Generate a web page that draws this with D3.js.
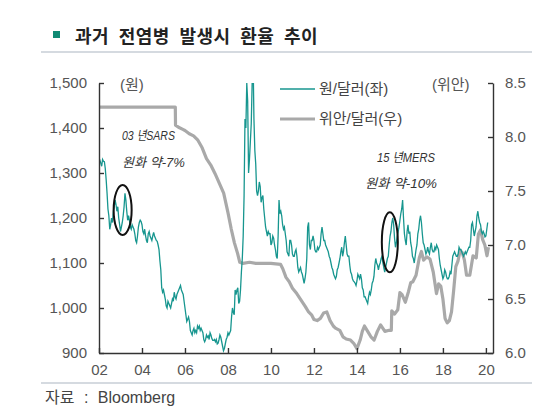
<!DOCTYPE html>
<html>
<head>
<meta charset="utf-8">
<script src="https://cdn.jsdelivr.net/npm/d3@7"></script>
<style>
body { margin: 0; background: #fff; }
svg { display: block; }
</style>
</head>
<body>
<svg id="chart" width="540" height="420"></svg>
<script>
const title = "과거 전염병 발생시 환율 추이"
const source = "자료 : Bloomberg"
const seriesNames = ["원/달러(좌)", "위안/달러(우)"]
const unitLabels = ["(원)", "(위안)"]
const yearTicks = [2002, 2004, 2006, 2008, 2010, 2012, 2014, 2016, 2018, 2020]
const krwTicks = [900, 1000, 1100, 1200, 1300, 1400, 1500]
const cnyTicks = [6.0, 6.5, 7.0, 7.5, 8.0, 8.5]
const noteSars = ["03 년SARS", "원화 약-7%"]
const noteMers = ["15 년MERS", "원화 약-10%"]

// KRW per USD, two readings a month starting Jan 2002
const krwStart = 2002
const krwRates = [
  1318,1328,1322,1315,1330,1326,1325,1310,1285,1255,1220,1205,1175,1185,1200,1190,1215,1225,1240,1230,1215,1225,1200,1186,
  1170,1180,1190,1205,1225,1255,1240,1215,1195,1205,1195,1180,1175,1185,1180,1175,1165,1150,1145,1160,1180,1190,1195,1192,
  1185,1170,1165,1175,1160,1150,1145,1165,1170,1160,1155,1150,1160,1168,1160,1155,1150,1148,1140,1130,1105,1085,1045,1035,
  1040,1030,1020,1005,1000,1015,1010,1005,1000,1010,1020,1015,1035,1025,1020,1030,1035,1040,1045,1050,1040,1035,1030,1015,
  1000,985,970,975,980,970,950,945,940,950,955,945,950,945,960,955,960,950,955,950,945,930,925,930,
  940,935,938,930,945,940,932,928,928,930,925,930,920,922,930,940,935,925,915,905,910,920,930,935,
  945,940,945,950,980,1000,990,985,1040,1030,1040,1045,1010,1015,1040,1080,1110,1160,1250,1420,1400,1500,1460,1300,
  1330,1370,1410,1500,1560,1420,1350,1320,1260,1250,1260,1280,1270,1235,1245,1250,1220,1200,1180,1170,1160,1170,1165,1165,
  1140,1145,1160,1155,1140,1130,1115,1110,1160,1240,1210,1215,1205,1185,1175,1180,1165,1150,1125,1120,1115,1150,1150,1140,
  1120,1115,1115,1125,1130,1115,1090,1080,1085,1090,1080,1075,1065,1055,1065,1080,1110,1180,1190,1140,1130,1150,1150,1160,
  1150,1130,1125,1125,1135,1130,1135,1140,1165,1180,1165,1150,1150,1140,1135,1130,1125,1115,1110,1100,1090,1085,1075,1070,
  1065,1070,1085,1090,1100,1110,1125,1135,1115,1125,1145,1160,1140,1120,1115,1115,1095,1080,1075,1065,1060,1058,1055,1050,
  1060,1075,1070,1065,1075,1065,1045,1040,1025,1025,1020,1015,1010,1025,1035,1030,1040,1055,1060,1070,1095,1110,1100,1095,
  1085,1095,1100,1110,1115,1100,1090,1080,1090,1100,1110,1115,1140,1160,1170,1190,1200,1185,1155,1135,1145,1160,1170,1180,
  1195,1210,1220,1240,1200,1165,1150,1140,1170,1185,1165,1170,1145,1135,1115,1110,1100,1115,1130,1140,1165,1175,1195,1205,
  1190,1165,1145,1140,1130,1120,1125,1135,1125,1120,1135,1145,1130,1125,1125,1135,1130,1140,1135,1130,1110,1095,1085,1075,
  1065,1070,1085,1080,1070,1065,1065,1070,1080,1075,1095,1115,1120,1125,1120,1115,1115,1120,1135,1130,1130,1125,1120,1115,
  1120,1125,1120,1125,1130,1135,1135,1150,1185,1190,1175,1160,1170,1180,1205,1215,1200,1190,1185,1170,1165,1170,1165,1158,
  1160,1175,1190
]

// CNY per USD
const cnyYears = [
  2002.0, 2005.55, 2005.56, 2005.7, 2005.9, 2006.0, 2006.2, 2006.4, 2006.6, 2006.8,
  2007.0, 2007.2, 2007.4, 2007.6, 2007.8, 2008.0, 2008.15, 2008.3, 2008.45, 2008.55,
  2008.7, 2009.0, 2009.3, 2009.6, 2010.0, 2010.45, 2010.55, 2010.7, 2010.85, 2011.0,
  2011.2, 2011.4, 2011.6, 2011.75, 2011.9, 2012.0, 2012.15, 2012.3, 2012.45, 2012.6,
  2012.75, 2012.9, 2013.0, 2013.2, 2013.35, 2013.5, 2013.7, 2013.85, 2014.0, 2014.15,
  2014.25, 2014.35, 2014.5, 2014.65, 2014.8, 2014.95, 2015.1, 2015.3, 2015.5, 2015.6,
  2015.62, 2015.75, 2015.9, 2016.0, 2016.1, 2016.25, 2016.4, 2016.5, 2016.6, 2016.75,
  2016.9, 2017.0, 2017.1, 2017.25, 2017.4, 2017.55, 2017.7, 2017.8, 2017.9, 2018.0,
  2018.1, 2018.2, 2018.3, 2018.4, 2018.5, 2018.6, 2018.7, 2018.8, 2018.9, 2019.0,
  2019.1, 2019.25, 2019.4, 2019.55, 2019.65, 2019.75, 2019.85, 2019.95, 2020.05, 2020.12
]
const cnyRates = [
  8.277, 8.277, 8.11, 8.09, 8.07, 8.06, 8.03, 8.01, 7.97, 7.90,
  7.80, 7.74, 7.66, 7.57, 7.48, 7.30, 7.15, 7.02, 6.92, 6.84,
  6.83, 6.84, 6.83, 6.83, 6.83, 6.82, 6.78, 6.70, 6.66, 6.60,
  6.55, 6.49, 6.43, 6.38, 6.35, 6.31, 6.30, 6.32, 6.37, 6.38,
  6.30, 6.25, 6.23, 6.21, 6.15, 6.13, 6.12, 6.09, 6.04, 6.12,
  6.20, 6.25, 6.20, 6.15, 6.12, 6.20, 6.26, 6.20, 6.21, 6.21,
  6.39, 6.36, 6.40, 6.56, 6.54, 6.47, 6.57, 6.65, 6.66, 6.72,
  6.88, 6.94, 6.86, 6.89, 6.87, 6.75, 6.55, 6.64, 6.62, 6.50,
  6.32, 6.28, 6.30, 6.38, 6.58, 6.80, 6.85, 6.95, 6.93, 6.86,
  6.72, 6.72, 6.90, 6.88, 7.10, 7.14, 7.05, 7.00, 6.90, 6.98
]

const svg = d3.select('#chart')
const latin = '"Liberation Sans", "Noto Sans CJK KR", sans-serif'
const hangul = '"Noto Sans CJK KR", sans-serif'

// header and footer
svg.append('rect')
  .attr('x', 53).attr('y', 31).attr('width', 7).attr('height', 7)
  .attr('fill', '#108a74')
svg.append('text')
  .attr('x', 75).attr('y', 43)
  .attr('font-family', hangul).attr('font-weight', 'bold').attr('font-size', 18)
  .attr('letter-spacing', 0.5).attr('word-spacing', 5)
  .attr('fill', '#222')
  .text(title)
svg.append('line')
  .attr('x1', 41).attr('x2', 532).attr('y1', 52).attr('y2', 52)
  .attr('stroke', '#c7ced6').attr('stroke-width', 1.5)
svg.append('line')
  .attr('x1', 41).attr('x2', 532).attr('y1', 383).attr('y2', 383)
  .attr('stroke', '#c7ced6').attr('stroke-width', 1.5)
svg.append('text')
  .attr('x', 45).attr('y', 403)
  .attr('font-family', latin).attr('font-size', 16).attr('word-spacing', 5)
  .attr('fill', '#444')
  .text(source)

// scales
const x = d3.scaleLinear()
  .domain([2002, 2020.33])
  .range([99, 493])
const yL = d3.scaleLinear()
  .domain([900, 1500])
  .range([353, 83])
const yR = d3.scaleLinear()
  .domain([6, 8.5])
  .range([353, 83])

svg.append('clipPath').attr('id', 'plot')
  .append('rect').attr('x', 99).attr('y', 83).attr('width', 394).attr('height', 270)

// lines
const cnyData = cnyYears.map((t, i) => [t, cnyRates[i]])
const krwData = krwRates.map((v, i) => [krwStart + i / 24, v])

svg.append('path')
  .datum(cnyData)
  .attr('clip-path', 'url(#plot)')
  .attr('fill', 'none')
  .attr('stroke', '#a9a9a9')
  .attr('stroke-width', 3.2)
  .attr('stroke-linejoin', 'round')
  .attr('d', d3.line().x(d => x(d[0])).y(d => yR(d[1])))

svg.append('path')
  .datum(krwData)
  .attr('clip-path', 'url(#plot)')
  .attr('fill', 'none')
  .attr('stroke', '#17968f')
  .attr('stroke-width', 1.3)
  .attr('d', d3.line().x(d => x(d[0])).y(d => yL(d[1])))

// axes, ticks point inward
function styleAxis(g) {
  g.selectAll('.domain').attr('stroke', '#333').attr('stroke-width', 1.4)
  g.selectAll('.tick line').attr('stroke', '#333').attr('stroke-width', 1.4)
  g.selectAll('.tick text').attr('fill', '#555').attr('font-size', 15).attr('font-family', latin)
}

svg.append('g')
  .attr('transform', 'translate(99,0)')
  .call(d3.axisLeft(yL).tickValues(krwTicks).tickFormat(d3.format(',')).tickSize(-5).tickSizeOuter(0).tickPadding(12))
  .call(styleAxis)

svg.append('g')
  .attr('transform', 'translate(493,0)')
  .call(d3.axisRight(yR).tickValues(cnyTicks).tickFormat(d3.format('.1f')).tickSize(-5).tickSizeOuter(0).tickPadding(12))
  .call(styleAxis)

svg.append('g')
  .attr('transform', 'translate(0,353)')
  .call(d3.axisBottom(x).tickValues(yearTicks).tickFormat(d => String(d % 100).padStart(2, '0')).tickSize(-5).tickSizeOuter(0).tickPadding(11))
  .call(styleAxis)

// units
svg.append('text')
  .attr('x', 120).attr('y', 90)
  .attr('font-family', latin).attr('font-size', 15).attr('fill', '#555')
  .text(unitLabels[0])
svg.append('text')
  .attr('x', 432).attr('y', 90)
  .attr('font-family', latin).attr('font-size', 15).attr('fill', '#555')
  .text(unitLabels[1])

// legend
const legend = svg.append('g')
seriesNames.forEach((name, i) => {
  const yy = 89 + i * 30
  legend.append('line')
    .attr('x1', 280).attr('x2', 315).attr('y1', yy).attr('y2', yy)
    .attr('stroke', i === 0 ? '#17968f' : '#a9a9a9')
    .attr('stroke-width', i === 0 ? 1.6 : 3.2)
  legend.append('text')
    .attr('x', 319).attr('y', yy + 5)
    .attr('font-family', latin).attr('font-size', 15).attr('fill', '#444')
    .text(name)
})

// event notes
function note(lines, xs, ys, widths) {
  lines.forEach((s, i) => {
    svg.append('text')
      .attr('x', xs[i]).attr('y', ys[i])
      .attr('font-family', latin).attr('font-style', 'italic').attr('font-size', 13)
      .attr('fill', '#333')
      .attr('textLength', widths[i]).attr('lengthAdjust', 'spacingAndGlyphs')
      .text(s)
  })
}
note(noteSars, [122, 122], [140, 167], [53, 63])
note(noteMers, [377, 365], [162, 188], [58, 72])

svg.append('ellipse')
  .attr('cx', x(2003.1)).attr('cy', yL(1218))
  .attr('rx', 9).attr('ry', 25)
  .attr('fill', 'none').attr('stroke', '#111').attr('stroke-width', 2)
svg.append('ellipse')
  .attr('cx', x(2015.53)).attr('cy', yL(1146))
  .attr('rx', 8).attr('ry', 30)
  .attr('fill', 'none').attr('stroke', '#111').attr('stroke-width', 2)
</script>
</body>
</html>
